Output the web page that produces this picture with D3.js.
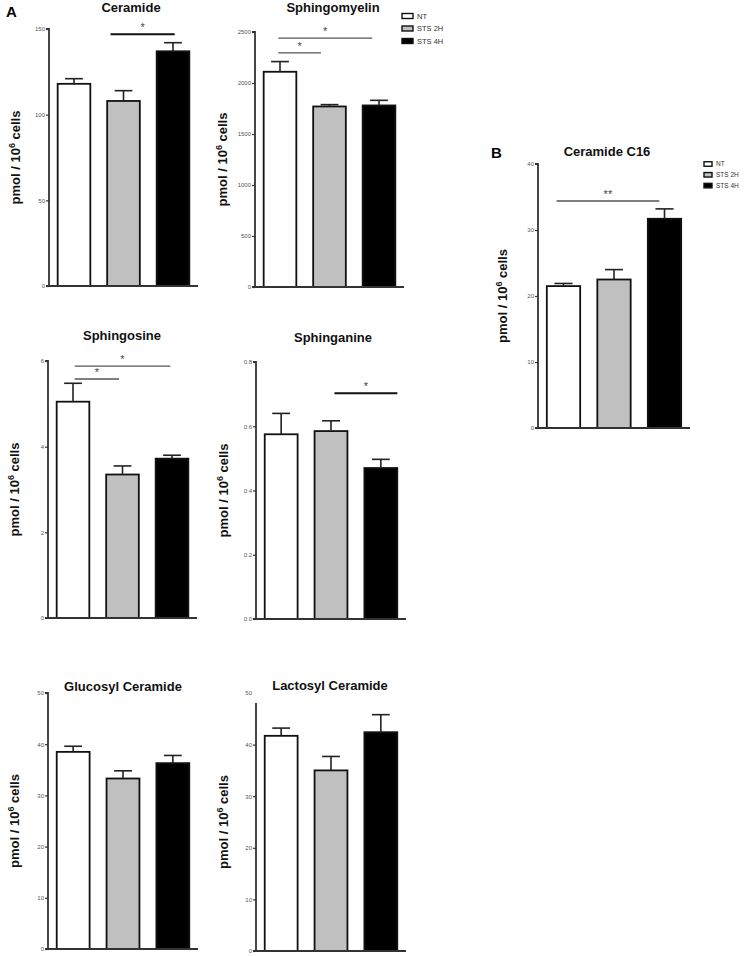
<!DOCTYPE html>
<html><head><meta charset="utf-8">
<script src="https://cdn.jsdelivr.net/npm/d3@7"></script>
<style>
html,body{margin:0;padding:0;background:#fff;}
svg{display:block;font-family:"Liberation Sans",Arial,sans-serif;}
</style></head>
<body><svg id="c" width="753" height="956"></svg>
<script>
// ---------- DATA ----------
const groups = ["NT", "STS 2H", "STS 4H"];
const groupFill = ["#ffffff", "#c0c0c0", "#000000"];
const panelTitles = ["Ceramide", "Sphingomyelin", "Sphingosine", "Sphinganine", "Glucosyl Ceramide", "Lactosyl Ceramide", "Ceramide C16"];
const ceramideMean = [118, 108, 137];
const ceramideErr = [3, 6, 5];
const sphingomyelinMean = [2110, 1770, 1780];
const sphingomyelinErr = [100, 18, 50];
const sphingosineMean = [5.05, 3.35, 3.72];
const sphingosineErr = [0.43, 0.2, 0.08];
const sphinganineMean = [0.575, 0.585, 0.47];
const sphinganineErr = [0.065, 0.032, 0.027];
const glucosylMean = [38.5, 33.3, 36.3];
const glucosylErr = [1.1, 1.5, 1.5];
const lactosylMean = [41.7, 35.0, 42.4];
const lactosylErr = [1.5, 2.7, 3.4];
const c16Mean = [21.5, 22.5, 31.7];
const c16Err = [0.4, 1.5, 1.5];
const ceramideTicks = [0, 50, 100, 150];
const sphingomyelinTicks = [0, 500, 1000, 1500, 2000, 2500];
const sphingosineTicks = [0, 2, 4, 6];
const sphinganineTicks = [0, 0.2, 0.4, 0.6, 0.8];
const glucosylTicks = [0, 10, 20, 30, 40, 50];
const lactosylTicks = [0, 10, 20, 30, 40, 50];
const c16Ticks = [0, 10, 20, 30, 40];
// significance comparisons: [from group, to group, label, level (value)]
const ceramideSig = [[1, 2, "*", 147]];
const sphingomyelinSig = [[0, 2, "*", 2440], [0, 1, "*", 2295]];
const sphingosineSig = [[0, 2, "*", 5.88], [0, 1, "*", 5.58]];
const sphinganineSig = [[1, 2, "*", 0.703]];
const glucosylSig = [];
const lactosylSig = [];
const c16Sig = [[0, 2, "**", 34.4]];

const panels = [
  {title: panelTitles[0], mean: ceramideMean, err: ceramideErr, ticks: ceramideTicks, sig: ceramideSig, fmt: d3.format("d")},
  {title: panelTitles[1], mean: sphingomyelinMean, err: sphingomyelinErr, ticks: sphingomyelinTicks, sig: sphingomyelinSig, fmt: d3.format("d")},
  {title: panelTitles[2], mean: sphingosineMean, err: sphingosineErr, ticks: sphingosineTicks, sig: sphingosineSig, fmt: d3.format("d")},
  {title: panelTitles[3], mean: sphinganineMean, err: sphinganineErr, ticks: sphinganineTicks, sig: sphinganineSig, fmt: d3.format(".1f")},
  {title: panelTitles[4], mean: glucosylMean, err: glucosylErr, ticks: glucosylTicks, sig: glucosylSig, fmt: d3.format("d")},
  {title: panelTitles[5], mean: lactosylMean, err: lactosylErr, ticks: lactosylTicks, sig: lactosylSig, fmt: d3.format("d")},
  {title: panelTitles[6], mean: c16Mean, err: c16Err, ticks: c16Ticks, sig: c16Sig, fmt: d3.format("d")}
];

// ---------- LAYOUT ----------
const layout = [
  {ax: 49,  top: 29,  bot: 286, w: 149, tx: 131, ty: 12,  lx: 16,  sigStyle: "bold", sigX: [[0.12, 0.55]]},
  {ax: 255, top: 32,  bot: 287, w: 149, tx: 333, ty: 12,  lx: 223, sigStyle: "thin", sigX: [[0.45, 0.3], [0.45, 0.25]]},
  {ax: 48,  top: 361, bot: 618, w: 149, tx: 122, ty: 340, lx: 15,  sigStyle: "thin", sigX: [[0.55, 0.45], [0.55, 0.4]]},
  {ax: 256, top: 362, bot: 619, w: 150, tx: 333, ty: 342, lx: 224, sigStyle: "bold", sigX: [[0.6, 0.98]]},
  {ax: 48,  top: 693, bot: 949, w: 150, tx: 123, ty: 691, lx: 15,  sigStyle: "thin", sigX: []},
  {ax: 256, top: 693, bot: 951, w: 150, tx: 330, ty: 690, lx: 224, sigStyle: "thin", sigX: [], axisTop: 703, noTopTick: true},
  {ax: 538, top: 164, bot: 428, w: 152, tx: 607, ty: 156, lx: 503, sigStyle: "thin", sigX: [[0.3, 0.35]]}
];

const svg = d3.select("#c");

panels.forEach((p, k) => {
  const L = layout[k];
  const g = svg.append("g");
  const y = d3.scaleLinear().domain([0, d3.max(p.ticks)]).range([L.bot, L.top]);
  const x = d3.scaleBand().domain(groups).range([L.ax, L.ax + L.w]).paddingInner(0.31).paddingOuter(0.16);
  const bw = x.bandwidth();

  // bars
  g.selectAll("rect.bar").data(groups).enter().append("rect")
    .attr("x", d => x(d) + 0.75)
    .attr("y", (d, i) => y(p.mean[i]))
    .attr("width", bw - 1.5)
    .attr("height", (d, i) => y(0) - y(p.mean[i]))
    .attr("fill", (d, i) => groupFill[i])
    .attr("stroke", "#111").attr("stroke-width", 1.8);

  // error bars (upper only)
  groups.forEach((d, i) => {
    const cx = x(d) + bw / 2;
    const y0 = y(p.mean[i]), y1 = y(p.mean[i] + p.err[i]);
    g.append("line").attr("x1", cx).attr("x2", cx).attr("y1", y0).attr("y2", y1)
      .attr("stroke", "#222").attr("stroke-width", 1.6);
    g.append("line").attr("x1", cx - bw * 0.26).attr("x2", cx + bw * 0.26).attr("y1", y1).attr("y2", y1)
      .attr("stroke", "#222").attr("stroke-width", 1.6);
  });

  // y axis
  const yAxis = d3.axisLeft(y).tickValues(p.ticks).tickFormat(p.fmt).tickSize(3).tickPadding(1);
  const ag = g.append("g").attr("transform", `translate(${L.ax},0)`).call(yAxis);
  const aTop = L.axisTop || L.top;
  ag.select(".domain").attr("stroke", "#333").attr("stroke-width", 1.8)
    .attr("d", L.noTopTick ? `M0,${aTop}V${L.bot}` : `M-3,${aTop}H0V${L.bot}`);
  ag.selectAll(".tick line").attr("stroke", "#333").attr("stroke-width", 1.2)
    .attr("display", d => (L.noTopTick && d === d3.max(p.ticks)) ? "none" : null);
  ag.selectAll(".tick text").attr("fill", "#555").style("font-size", "6px").style("font-family", "Liberation Sans, Arial, sans-serif");

  // x axis baseline
  g.append("line").attr("x1", L.ax - 3).attr("x2", L.ax + L.w).attr("y1", L.bot).attr("y2", L.bot)
    .attr("stroke", "#333").attr("stroke-width", 1.8);

  // title
  g.append("text").attr("x", L.tx).attr("y", L.ty).attr("text-anchor", "middle")
    .style("font-size", "13px").style("font-weight", "bold").attr("fill", "#111").text(p.title);

  // y label
  const cy = (L.top + L.bot) / 2;
  const yl = g.append("text").attr("transform", `translate(${L.lx + 4},${cy}) rotate(-90)`)
    .attr("text-anchor", "middle").style("font-size", "13px").style("font-weight", "bold").attr("fill", "#111");
  yl.append("tspan").text("pmol / 10");
  yl.append("tspan").attr("dy", -5).style("font-size", "9px").text("6");
  yl.append("tspan").attr("dy", 5).text(" cells");

  // significance
  p.sig.forEach((s, j) => {
    const fx = L.sigX[j];
    const x1 = x(groups[s[0]]) + fx[0] * bw;
    const x2 = x(groups[s[1]]) + fx[1] * bw;
    const yy = y(s[3]);
    const bold = L.sigStyle === "bold";
    g.append("line").attr("x1", x1).attr("x2", x2).attr("y1", yy).attr("y2", yy)
      .attr("stroke", bold ? "#111" : "#555").attr("stroke-width", bold ? 2 : 1.4);
    g.append("text").attr("x", (x1 + x2) / 2).attr("y", yy - 3).attr("text-anchor", "middle")
      .style("font-size", "11px").attr("fill", "#444").text(s[2]);
  });
});

// panel letters
svg.append("text").attr("x", 6).attr("y", 17).style("font-size", "15px").style("font-weight", "bold").text("A");
svg.append("text").attr("x", 491).attr("y", 158).style("font-size", "15px").style("font-weight", "bold").text("B");

// legends
function legend(x0, y0, step, bw, bh, fs) {
  groups.forEach((gname, i) => {
    const yy = y0 + i * step;
    svg.append("rect").attr("x", x0).attr("y", yy - bh / 2).attr("width", bw).attr("height", bh)
      .attr("fill", groupFill[i]).attr("stroke", "#111").attr("stroke-width", 1.4);
    svg.append("text").attr("x", x0 + bw + 4).attr("y", yy).attr("dy", "0.35em")
      .style("font-size", fs + "px").attr("fill", "#333").text(gname);
  });
}
legend(402, 16, 12.5, 11, 5, 7.5);
legend(704, 164, 10.8, 8, 4.5, 6.5);
</script></body></html>
